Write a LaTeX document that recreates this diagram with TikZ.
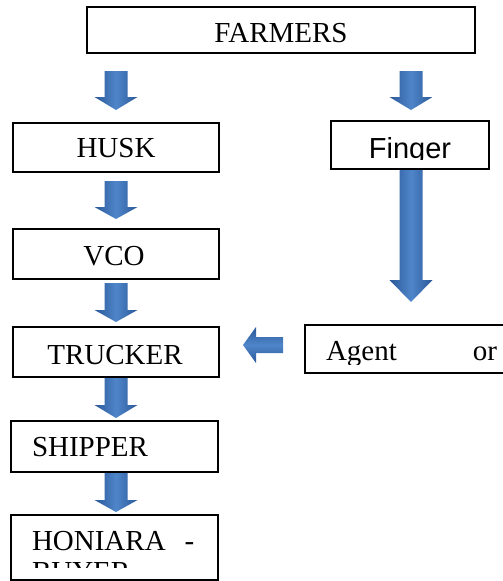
\documentclass[tikz,border=0pt]{standalone}
\usepackage{fontspec}
\setmainfont{Liberation Serif}
\newfontfamily\arialf{Liberation Sans}
\definecolor{arrdark}{HTML}{2A5898}
\definecolor{arrlight}{HTML}{4F86CA}
\newcommand{\dnarrow}[4]{\shade[sarr] ({#1-11.5},#2) -- ({#1+11.5},#2) -- ({#1+11.5},#3) -- ({#1+21.5},#3) -- (#1,#4) -- ({#1-21.5},#3) -- ({#1-11.5},#3) -- cycle;}
\begin{document}
\begin{tikzpicture}[x=1pt,y=-1pt,
  box/.style={draw=black, line width=1.2pt, rectangle, inner sep=0pt, outer sep=0pt, anchor=north west},
  txt/.style={inner sep=0pt, outer sep=0pt, font=\fontsize{29}{34}\selectfont},
  sarr/.style={left color=arrdark, right color=arrdark, middle color=arrlight},
  larr/.style={top color=arrdark, bottom color=arrdark, middle color=arrlight}]
\path[use as bounding box, clip] (0,0) rectangle (503,581);
\fill[white] (0,0) rectangle (503,581);
% boxes
\node[box, minimum width=388pt, minimum height=46pt] (farmers) at (87,7) {};
\node[box, minimum width=206pt, minimum height=49pt] (husk) at (13,123) {};
\node[box, minimum width=158pt, minimum height=48pt] (finger) at (331,121) {};
\node[box, minimum width=206pt, minimum height=50pt] (vco) at (13,229) {};
\node[box, minimum width=206pt, minimum height=50pt] (trucker) at (13,327) {};
\node[box, minimum width=260pt, minimum height=48pt] (agent) at (305,325) {};
\node[box, minimum width=207pt, minimum height=51pt] (shipper) at (11,421) {};
\node[box, minimum width=207pt, minimum height=65pt] (honiara) at (11,515) {};
% texts
\node[txt, anchor=base] (farmerst) at (281,42) {FARMERS};
\node[txt, anchor=base] (huskt) at (116,157) {HUSK};
\begin{scope}
  \clip (331,121) rectangle (489,159);
  \node[txt, anchor=base, font=\arialf\fontsize{29}{34}\selectfont] (fingert) at (410,158) {Finger};
\end{scope}
\node[txt, anchor=base] (vcot) at (114,265) {VCO};
\node[txt, anchor=base] (truckert) at (115,364) {TRUCKER};
\begin{scope}
  \clip (305,325) rectangle (503,364);
  \node[txt, anchor=base west] (agentt) at (326,360) {Agent\hspace{76pt}or};
\end{scope}
\node[txt, anchor=base west] (shippert) at (32,456) {SHIPPER};
\begin{scope}
  \clip (11,515) rectangle (218,567);
  \node[txt, anchor=base west] (honiarat) at (32,550) {HONIARA\hspace{19pt}-};
  \node[txt, anchor=base west] (buyert) at (32,581) {BUYER};
\end{scope}
% block arrows
\dnarrow{116}{71}{97}{110}
\dnarrow{411}{71}{97}{110}
\dnarrow{116}{181}{207}{219}
\dnarrow{411}{170}{280}{302}
\dnarrow{116}{283}{310}{322}
\dnarrow{116}{378}{405}{418}
\dnarrow{116}{473}{500}{512}
\shade[larr] (283,337) -- (256,337) -- (256,327) -- (243,345) -- (256,363) -- (256,353) -- (283,353) -- cycle;
\end{tikzpicture}
\end{document}
